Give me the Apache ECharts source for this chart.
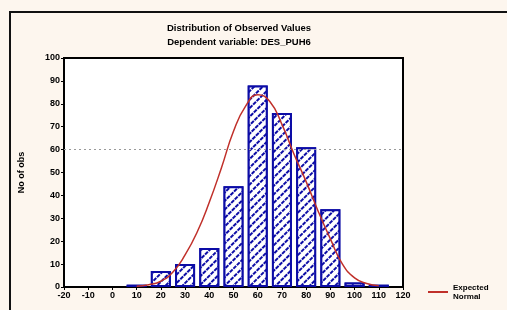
<!DOCTYPE html>
<html>
<head>
<meta charset="utf-8">
<script src="https://cdn.jsdelivr.net/npm/echarts@6/dist/echarts.min.js"></script>
<style>
  html, body { margin: 0; padding: 0; background: #fdf6ee; }
  #chart { width: 507px; height: 310px; }
</style>
</head>
<body>
<div id="chart"></div>
<script>
// bin centres and counts of the histogram
var binCenters = [10, 20, 30, 40, 50, 60, 70, 80, 90, 100, 110];
var binCounts = [1, 7, 10, 17, 44, 88, 76, 61, 34, 2, 1];
// expected normal curve
var curveX = [10, 15, 20, 25, 30, 35, 40, 45, 50, 55, 60, 65, 70, 75, 80, 85, 90, 95, 100, 105, 110];
var curveY = [0.3, 1, 2.5, 6.5, 14, 24, 37, 52, 68, 79, 84, 81, 71, 58, 46, 33, 21, 10, 4, 1.5, 0.5];
var xTicks = [-20, 120, 10];
var yTicks = [0, 100, 10];

var chart = echarts.init(document.getElementById('chart'));

var barData = binCenters.map(function (x, i) { return [x, binCounts[i]]; });
var lineData = curveX.map(function (x, i) { return [x, curveY[i]]; });

var labelFont = { fontFamily: 'Liberation Sans', fontWeight: 'bold', fontSize: 9, color: '#000' };

chart.setOption({
  backgroundColor: '#fdf6ee',
  animation: false,
  graphic: [{
    type: 'rect',
    shape: { x: 10, y: 12, width: 520, height: 320 },
    style: { fill: 'none', stroke: '#111', lineWidth: 2 },
    silent: true
  }],
  title: {
    text: 'Distribution of Observed Values\nDependent variable: DES_PUH6',
    left: 234,
    textAlign: 'center',
    top: 16,
    textStyle: { fontFamily: 'Liberation Sans', fontWeight: 'bold', fontSize: 9.5, lineHeight: 14, color: '#000' }
  },
  legend: {
    left: 423,
    top: 278,
    itemWidth: 20,
    itemHeight: 2,
    itemGap: 4,
    data: [{ name: 'Expected Normal', icon: 'rect' }],
    formatter: function () { return 'Expected\nNormal'; },
    textStyle: { fontFamily: 'Liberation Sans', fontWeight: 'bold', fontSize: 8, lineHeight: 9, color: '#000' }
  },
  grid: {
    left: 64, top: 58, right: 104, bottom: 23,
    show: true, backgroundColor: '#fff', borderColor: '#000', borderWidth: 2
  },
  xAxis: {
    type: 'value',
    min: xTicks[0], max: xTicks[1], interval: xTicks[2],
    axisLine: { show: false, onZero: false },
    axisTick: { show: true, length: 3, lineStyle: { color: '#000' } },
    splitLine: { show: false },
    axisLabel: Object.assign({ margin: 4 }, labelFont)
  },
  yAxis: {
    type: 'value',
    min: yTicks[0], max: yTicks[1], interval: yTicks[2],
    name: 'No of obs',
    nameLocation: 'middle',
    nameGap: 38,
    nameTextStyle: labelFont,
    axisLine: { show: false, onZero: false },
    axisTick: { show: true, length: 3, lineStyle: { color: '#000' } },
    splitLine: { show: false },
    axisLabel: Object.assign({ margin: 4 }, labelFont)
  },
  series: [{
    type: 'bar',
    name: 'Observed',
    data: barData,
    barWidth: 20,
    itemStyle: {
      color: '#fff',
      borderColor: '#0c0ca6',
      borderWidth: 2,
      decal: {
        symbol: 'rect',
        symbolSize: 1,
        color: '#0c0ca6',
        backgroundColor: '#fff',
        dashArrayX: [4, 1],
        dashArrayY: [1.6, 4],
        rotation: -Math.PI / 4
      }
    },
    markLine: {
      silent: true,
      symbol: 'none',
      label: { show: false },
      lineStyle: { color: '#999', type: [2, 3], width: 1 },
      data: [{ yAxis: 60 }]
    },
    z: 2
  }, {
    type: 'line',
    name: 'Expected Normal',
    data: lineData,
    smooth: true,
    showSymbol: false,
    symbol: 'none',
    lineStyle: { color: '#c0302a', width: 1.5 },
    itemStyle: { color: '#c0302a' },
    z: 3
  }]
});
</script>
</body>
</html>
